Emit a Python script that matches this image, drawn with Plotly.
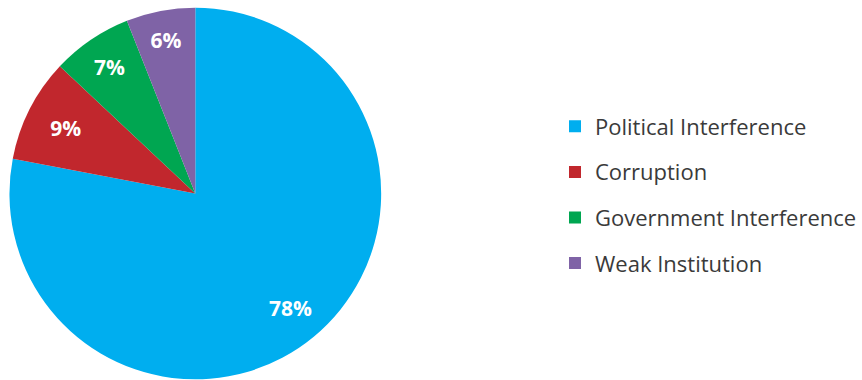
import math
import plotly.graph_objects as go

categories = ["Political Interference", "Corruption", "Government Interference", "Weak Institution"]
shares = [78, 9, 7, 6]
colors = ["#00AEEF", "#C1272D", "#00A651", "#7F63A6"]

W, H = 862, 380
# pie placement in pixels: centre and radius
cx, cy, R = 196, 193.5, 186.5

fig = go.Figure()

# the large slice gets its label as an annotation further out along its mid-angle
positions = ["none"] + ["inside"] * (len(shares) - 1)

fig.add_trace(go.Pie(
    labels=categories,
    values=shares,
    sort=False,
    direction="clockwise",
    rotation=0,
    marker=dict(colors=colors, line=dict(width=0)),
    texttemplate="%{value}%",
    textposition=positions,
    insidetextorientation="horizontal",
    textfont=dict(family="Open Sans", size=21, color="white", weight="bold"),
    hovertemplate="%{label}: %{value}%<extra></extra>",
    showlegend=False,
    domain=dict(x=[(cx - R) / W, (cx + R) / W], y=[0, (2 * R) / H]),
))

total = sum(shares)
mid = 2 * math.pi * (shares[0] / 2) / total
rr = 0.8 * R
fig.add_annotation(
    x=(cx + rr * math.sin(mid)) / W,
    y=1 - (cy - rr * math.cos(mid)) / H,
    xref="paper", yref="paper",
    xanchor="center", yanchor="middle",
    text=f"{shares[0]}%", showarrow=False,
    font=dict(family="Open Sans", size=21, color="white", weight="bold"),
)

# legend entries, one group per category so tracegroupgap spaces them out
for name, col in zip(categories, colors):
    fig.add_trace(go.Scatter(
        x=[None], y=[None], mode="markers", name=name,
        legendgroup=name,
        marker=dict(symbol="square", size=12, color=col),
    ))

fig.update_layout(
    width=W, height=H,
    margin=dict(l=0, r=0, t=0, b=0),
    paper_bgcolor="white", plot_bgcolor="white",
    xaxis=dict(visible=False), yaxis=dict(visible=False),
    legend=dict(
        x=557 / W, xanchor="left",
        y=1 - 195 / H, yanchor="middle",
        traceorder="grouped", tracegroupgap=14,
        font=dict(family="Open Sans", size=22, color="#3a3a3a"),
        bgcolor="rgba(0,0,0,0)",
    ),
)

fig.write_html("out.html")
